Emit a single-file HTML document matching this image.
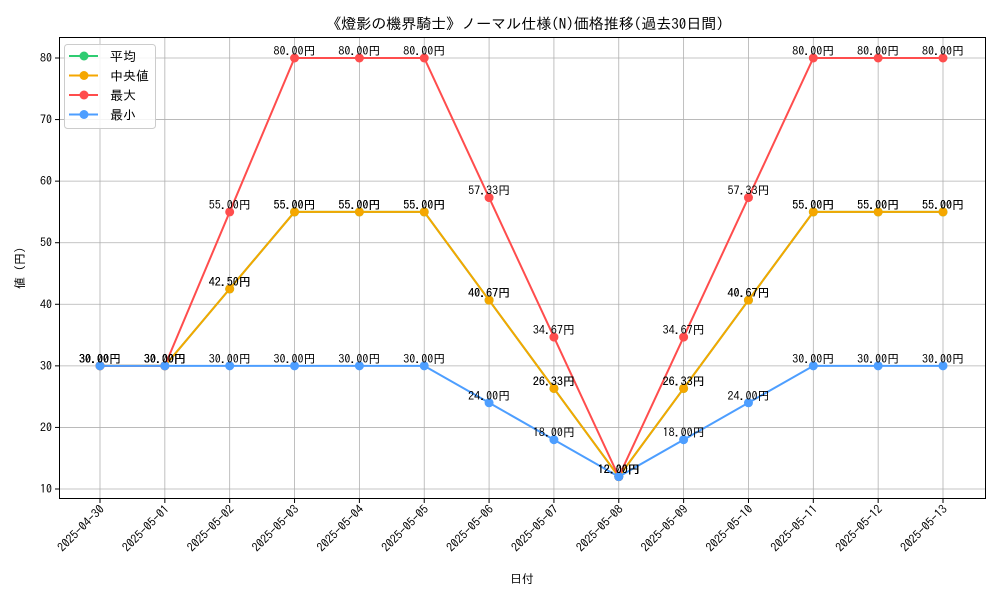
<!DOCTYPE html>
<html><head><meta charset="utf-8">
<style>
body{margin:0;background:#fff;}
svg text{font-family:"IPAGothic","Noto Sans CJK JP",sans-serif;fill:#000;}
</style></head>
<body>
<svg id="chart" width="1000" height="600" xmlns="http://www.w3.org/2000/svg">
<text x="525" y="29" font-size="15" text-anchor="middle">《燈影の機界騎士》ノーマル仕様(N)価格推移(過去30日間)</text>
<g id="grid"></g>
<g id="axes"></g>
<g id="series"></g>
<rect x="59.5" y="37.5" width="926" height="461" fill="none" stroke="#000" stroke-width="1"/>
<text x="522" y="583" font-size="12" text-anchor="middle">日付</text>
<text transform="translate(24,268) rotate(-90)" font-size="12" text-anchor="middle">値 (円)</text>
<g>
<rect x="64.5" y="44.5" width="91" height="84" rx="3" fill="#fff" fill-opacity="0.85" stroke="#ccc"/>
<g id="legend-items"></g>
</g>
</svg>
<script>
const dates=["2025-04-30","2025-05-01","2025-05-02","2025-05-03","2025-05-04","2025-05-05","2025-05-06","2025-05-07","2025-05-08","2025-05-09","2025-05-10","2025-05-11","2025-05-12","2025-05-13"];
const avgValues=[30,30,42.5,55,55,55,40.67,26.33,12,26.33,40.67,55,55,55];
const medianValues=[30,30,42.5,55,55,55,40.67,26.33,12,26.33,40.67,55,55,55];
const maxValues=[30,30,55,80,80,80,57.33,34.67,12,34.67,57.33,80,80,80];
const minValues=[30,30,30,30,30,30,24,18,12,18,24,30,30,30];
const yTicks=[10,20,30,40,50,60,70,80];
const seriesNames=["平均","中央値","最大","最小"];
const NS="http://www.w3.org/2000/svg";
const xS=i=>100+i*(843/13);
const yS=v=>489-(v-10)*(431/70);
function mk(tag,attrs,parent,txt){const e=document.createElementNS(NS,tag);for(const k in attrs)e.setAttribute(k,attrs[k]);if(txt!==undefined)e.textContent=txt;parent.appendChild(e);return e;}
const grid=document.getElementById('grid'),axes=document.getElementById('axes'),ser=document.getElementById('series'),leg=document.getElementById('legend-items');
yTicks.forEach(t=>{const y=yS(t);
const g=mk('line',{x1:59.5,x2:985.5,y1:y,y2:y,stroke:'#b0b0b0','stroke-width':0.8},grid);


mk('line',{x1:55,x2:59.5,y1:y,y2:y,stroke:'#000'},axes);
const l=mk('text',{x:52,y:y+4,'font-size':12,'text-anchor':'end'},axes,String(t));

});
dates.forEach((d,i)=>{const x=xS(i);
const g=mk('line',{x1:x,x2:x,y1:37.5,y2:498.5,stroke:'#b0b0b0','stroke-width':0.8},grid);


mk('line',{x1:x,x2:x,y1:498.5,y2:503,stroke:'#000'},axes);
const l=mk('text',{x:x+5,y:510,'font-size':12,'text-anchor':'end',transform:`rotate(-45 ${x+5} 510)`},axes,d);

});
const all=[[avgValues,'#2ecc71','avg'],[medianValues,'#f5a700','median'],[maxValues,'#ff4d4d','max'],[minValues,'#4d9eff','min']];
all.forEach(([vals,c,n])=>{
const g=mk('g',{},ser);


const p=mk('polyline',{points:vals.map((v,i)=>xS(i)+','+yS(v)).join(' '),fill:'none',stroke:c,'stroke-width':2},g);


vals.forEach((v,i)=>{const m=mk('circle',{cx:xS(i),cy:yS(v),r:4.5,fill:c},g);

});
});
all.forEach(([vals,c,n])=>{vals.forEach((v,i)=>{
const t=mk('text',{x:xS(i),y:yS(v)-3,'font-size':12,'text-anchor':'middle'},ser,v.toFixed(2)+'円');

});});
all.forEach(([vals,c,n],k)=>{const y=56+k*19.5;
const g=mk('g',{},leg);


mk('line',{x1:69,x2:98,y1:y,y2:y,stroke:c,'stroke-width':2},g);
mk('circle',{cx:84,cy:y,r:4.5,fill:c},g);
mk('text',{x:110,y:y+5,'font-size':13},g,seriesNames[k]);});
</script>
</body></html>
